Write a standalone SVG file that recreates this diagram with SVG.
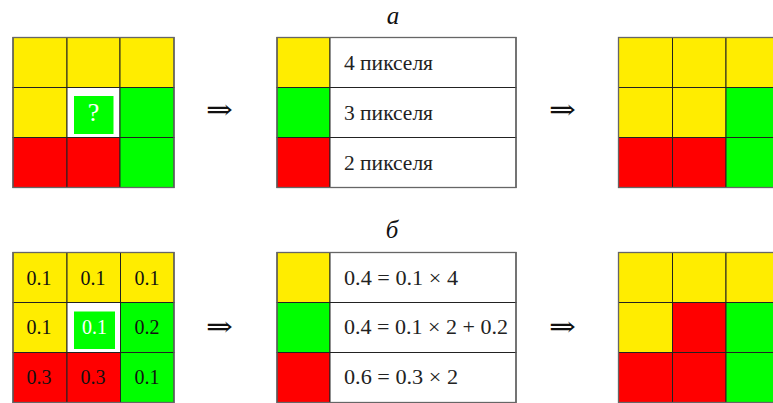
<svg xmlns="http://www.w3.org/2000/svg" width="773" height="403" viewBox="0 0 773 403">
<style>
.y{fill:#FFED00}.g{fill:#00FF00}.r{fill:#FF0000}.w{fill:#FFFFFF}
.c{stroke:#222;stroke-width:1}
.o{fill:none;stroke:#666;stroke-width:1.3}
.t{font-family:"Liberation Serif","DejaVu Serif",serif;font-size:20px;fill:#222}
.n{font-family:"Liberation Serif","DejaVu Serif",serif;font-size:20px;fill:#111;text-anchor:middle}
.ar{font-family:"Liberation Serif","DejaVu Serif",serif;font-size:28px;fill:#111}
.lb{font-family:"Liberation Serif","DejaVu Serif",serif;font-style:italic;font-size:25px;fill:#111;text-anchor:middle}
</style>
<text class="lb" x="393" y="24">a</text>
<text class="lb" x="392" y="238">б</text>
<g id="grid-a-input">
<rect class="y c" x="13" y="37.5" width="54" height="50"/>
<rect class="y c" x="67" y="37.5" width="53" height="50"/>
<rect class="y c" x="120" y="37.5" width="54" height="50"/>
<rect class="y c" x="13" y="87.5" width="54" height="50"/>
<rect class="w c" x="67" y="87.5" width="53" height="50"/>
<rect class="g" x="74" y="96" width="39.5" height="38"/>
<text x="93.5" y="121" class="n" style="fill:#fff;font-size:26px">?</text>
<rect class="g c" x="120" y="87.5" width="54" height="50"/>
<rect class="r c" x="13" y="137.5" width="54" height="50"/>
<rect class="r c" x="67" y="137.5" width="53" height="50"/>
<rect class="g c" x="120" y="137.5" width="54" height="50"/>
<rect class="o" x="13" y="37.5" width="161" height="150"/>
</g>
<g id="table-a">
<rect class="y c" x="277" y="37.5" width="53" height="50"/>
<rect class="w c" x="330" y="37.5" width="186" height="50"/>
<rect class="g c" x="277" y="87.5" width="53" height="50"/>
<rect class="w c" x="330" y="87.5" width="186" height="50"/>
<rect class="r c" x="277" y="137.5" width="53" height="50"/>
<rect class="w c" x="330" y="137.5" width="186" height="50"/>
<rect class="o" x="277" y="37.5" width="239" height="150"/>
<text class="t" x="344" y="70" textLength="89" lengthAdjust="spacingAndGlyphs">4 пикселя</text>
<text class="t" x="344" y="120" textLength="89" lengthAdjust="spacingAndGlyphs">3 пикселя</text>
<text class="t" x="344" y="170" textLength="89" lengthAdjust="spacingAndGlyphs">2 пикселя</text>
</g>
<g id="grid-a-output">
<rect class="y c" x="618.5" y="37.5" width="54" height="50"/>
<rect class="y c" x="672.5" y="37.5" width="53.5" height="50"/>
<rect class="y c" x="726" y="37.5" width="54" height="50"/>
<rect class="y c" x="618.5" y="87.5" width="54" height="50"/>
<rect class="y c" x="672.5" y="87.5" width="53.5" height="50"/>
<rect class="g c" x="726" y="87.5" width="54" height="50"/>
<rect class="r c" x="618.5" y="137.5" width="54" height="50"/>
<rect class="r c" x="672.5" y="137.5" width="53.5" height="50"/>
<rect class="g c" x="726" y="137.5" width="54" height="50"/>
<rect class="o" x="618.5" y="37.5" width="161.5" height="150"/>
</g>
<g id="grid-b-input">
<rect class="y c" x="13" y="252.5" width="54" height="50"/>
<rect class="y c" x="67" y="252.5" width="53.5" height="50"/>
<rect class="y c" x="120.5" y="252.5" width="53.5" height="50"/>
<rect class="y c" x="13" y="302.5" width="54" height="50"/>
<rect class="w c" x="67" y="302.5" width="53.5" height="50"/>
<rect class="g" x="74" y="311.5" width="41" height="37.5"/>
<rect class="g c" x="120.5" y="302.5" width="53.5" height="50"/>
<rect class="r c" x="13" y="352.5" width="54" height="50"/>
<rect class="r c" x="67" y="352.5" width="53.5" height="50"/>
<rect class="g c" x="120.5" y="352.5" width="53.5" height="50"/>
<rect class="o" x="13" y="252.5" width="161" height="150"/>
<text class="n" x="39" y="285" textLength="25" lengthAdjust="spacingAndGlyphs">0.1</text>
<text class="n" x="93" y="285" textLength="25" lengthAdjust="spacingAndGlyphs">0.1</text>
<text class="n" x="147" y="285" textLength="25" lengthAdjust="spacingAndGlyphs">0.1</text>
<text class="n" x="39" y="334" textLength="25" lengthAdjust="spacingAndGlyphs">0.1</text>
<text class="n" x="94.5" y="334" style="fill:#fff" textLength="25" lengthAdjust="spacingAndGlyphs">0.1</text>
<text class="n" x="147" y="334" textLength="25" lengthAdjust="spacingAndGlyphs">0.2</text>
<text class="n" x="39" y="384" textLength="25" lengthAdjust="spacingAndGlyphs">0.3</text>
<text class="n" x="93" y="384" textLength="25" lengthAdjust="spacingAndGlyphs">0.3</text>
<text class="n" x="147" y="384" textLength="25" lengthAdjust="spacingAndGlyphs">0.1</text>
</g>
<g id="table-b">
<rect class="y c" x="277" y="252.5" width="53" height="50"/>
<rect class="w c" x="330" y="252.5" width="186" height="50"/>
<rect class="g c" x="277" y="302.5" width="53" height="50"/>
<rect class="w c" x="330" y="302.5" width="186" height="50"/>
<rect class="r c" x="277" y="352.5" width="53" height="50"/>
<rect class="w c" x="330" y="352.5" width="186" height="50"/>
<rect class="o" x="277" y="252.5" width="239" height="150"/>
<text class="t" x="344" y="285" textLength="114" lengthAdjust="spacingAndGlyphs">0.4 = 0.1 × 4</text>
<text class="t" x="344" y="334" textLength="164" lengthAdjust="spacingAndGlyphs">0.4 = 0.1 × 2 + 0.2</text>
<text class="t" x="344" y="384" textLength="114" lengthAdjust="spacingAndGlyphs">0.6 = 0.3 × 2</text>
</g>
<g id="grid-b-output">
<rect class="y c" x="618.5" y="252.5" width="54" height="50"/>
<rect class="y c" x="672.5" y="252.5" width="53.5" height="50"/>
<rect class="y c" x="726" y="252.5" width="54" height="50"/>
<rect class="y c" x="618.5" y="302.5" width="54" height="50"/>
<rect class="r c" x="672.5" y="302.5" width="53.5" height="50"/>
<rect class="g c" x="726" y="302.5" width="54" height="50"/>
<rect class="r c" x="618.5" y="352.5" width="54" height="50"/>
<rect class="r c" x="672.5" y="352.5" width="53.5" height="50"/>
<rect class="g c" x="726" y="352.5" width="54" height="50"/>
<rect class="o" x="618.5" y="252.5" width="161.5" height="150"/>
</g>
<g id="connectors">
<text class="ar" x="206" y="119" textLength="27" lengthAdjust="spacingAndGlyphs">⇒</text>
<text class="ar" x="549" y="119" textLength="27" lengthAdjust="spacingAndGlyphs">⇒</text>
<text class="ar" x="206" y="336" textLength="27" lengthAdjust="spacingAndGlyphs">⇒</text>
<text class="ar" x="549" y="336" textLength="27" lengthAdjust="spacingAndGlyphs">⇒</text>
</g>
</svg>
